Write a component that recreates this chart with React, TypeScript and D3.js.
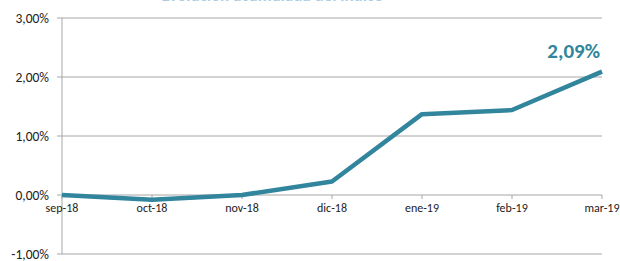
import React from 'react';
import * as d3 from 'd3';

const months = ['sep-18', 'oct-18', 'nov-18', 'dic-18', 'ene-19', 'feb-19', 'mar-19'];
const values = [0.0, -0.08, 0.0, 0.23, 1.37, 1.44, 2.09];
const yTicks = [-1, 0, 1, 2, 3];
const chartTitle = 'Evolución acumulada del índice';

const width = 620;
const height = 261;
const lineColor = '#31859c';
const gridColor = '#a6a6a6';
const font = "Carlito, 'Liberation Sans', sans-serif";

const fmt = (v: number) => v.toFixed(2).replace('.', ',') + '%';

const App: React.FC = () => {
  const x = d3.scalePoint<string>().domain(months).range([62, 602]);
  const y = d3.scaleLinear().domain([-1, 3]).range([254, 18]);

  const line = d3.line<number>()
    .x((_, i) => x(months[i]) as number)
    .y(d => y(d))
    .curve(d3.curveLinear);

  const last = values[values.length - 1];

  return (
    <svg width={width} height={height} style={{ position: 'absolute', top: 0, left: 0, background: '#fff' }}>
      <text x={272} y={1} textAnchor="middle" fontFamily={font} fontSize={17} fontWeight="bold" fill="#a9cce3">
        {chartTitle}
      </text>

      {yTicks.map(t => (
        <g key={t}>
          <line x1={57} x2={602} y1={y(t)} y2={y(t)} stroke={gridColor} strokeWidth={1} />
          <text x={49} y={y(t) + 4.5} textAnchor="end" fontFamily={font} fontSize={13.5} fill="#222">
            {fmt(t)}
          </text>
        </g>
      ))}
      <line x1={62} x2={62} y1={y(3)} y2={y(-1)} stroke={gridColor} strokeWidth={1} />

      {months.map(m => (
        <g key={m}>
          <line x1={x(m)} x2={x(m)} y1={y(0)} y2={y(0) + 4} stroke={gridColor} />
          <text x={x(m)} y={y(0) + 17} textAnchor="middle" fontFamily={font} fontSize={12} fill="#222">
            {m}
          </text>
        </g>
      ))}

      <path d={line(values) ?? ''} fill="none" stroke={lineColor} strokeWidth={4.5} strokeLinejoin="round" />

      <text x={600} y={58} textAnchor="end" fontFamily={font} fontSize={21} fontWeight="bold" fill={lineColor}>
        {fmt(last)}
      </text>
    </svg>
  );
};

export default App;
